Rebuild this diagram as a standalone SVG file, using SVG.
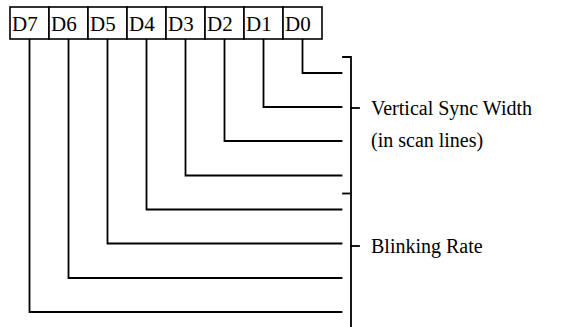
<svg xmlns="http://www.w3.org/2000/svg" width="580" height="327" viewBox="0 0 580 327">
<style>
.box{fill:#fff;stroke:#000;stroke-width:1.6}
.lbl{font-family:"Liberation Serif","Times New Roman",serif;font-size:20px;fill:#000}
.bit{font-size:21px}
.ln{fill:none;stroke:#000;stroke-width:1.8;stroke-linecap:square}
</style>
<rect width="580" height="327" fill="#fff"/>
<g id="register">
<g id="D7"><rect class="box" x="10" y="7" width="39" height="32"/><text class="lbl bit" x="12" y="31">D7</text></g>
<g id="D6"><rect class="box" x="49" y="7" width="39" height="32"/><text class="lbl bit" x="51" y="31">D6</text></g>
<g id="D5"><rect class="box" x="88" y="7" width="39" height="32"/><text class="lbl bit" x="90" y="31">D5</text></g>
<g id="D4"><rect class="box" x="127" y="7" width="39" height="32"/><text class="lbl bit" x="129" y="31">D4</text></g>
<g id="D3"><rect class="box" x="166" y="7" width="39" height="32"/><text class="lbl bit" x="168" y="31">D3</text></g>
<g id="D2"><rect class="box" x="205" y="7" width="39" height="32"/><text class="lbl bit" x="207" y="31">D2</text></g>
<g id="D1"><rect class="box" x="244" y="7" width="39" height="32"/><text class="lbl bit" x="246" y="31">D1</text></g>
<g id="D0"><rect class="box" x="283" y="7" width="39" height="32"/><text class="lbl bit" x="285" y="31">D0</text></g>
</g>
<g id="connectors">
<path class="ln" d="M302.5 40V73H341.5"/>
<path class="ln" d="M263.5 40V107H341.5"/>
<path class="ln" d="M224.5 40V141H341.5"/>
<path class="ln" d="M185.5 40V175.5H341.5"/>
<path class="ln" d="M146.5 40V209.5H341.5"/>
<path class="ln" d="M107.5 40V243.5H341.5"/>
<path class="ln" d="M68.5 40V278H341.5"/>
<path class="ln" d="M29.5 40V312H341.5"/>
</g>
<g id="brackets">
<path class="ln" d="M343 57H351V330"/>
<path class="ln" d="M343 193.5H351"/>
<path class="ln" d="M351 108H359"/>
<path class="ln" d="M351 246H359"/>
</g>
<g id="vsync">
<text class="lbl" x="371" y="115">Vertical Sync Width</text>
<text class="lbl" x="371" y="147">(in scan lines)</text>
</g>
<g id="blink">
<text class="lbl" x="371" y="253">Blinking Rate</text>
</g>
</svg>
